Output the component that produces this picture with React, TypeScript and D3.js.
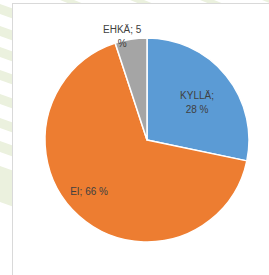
import React from 'react';
import * as d3 from 'd3';

// chart values
const categories = ['KYLLÄ', 'EI', 'EHKÄ'];
const shares = [28, 66, 5];
const sliceColors = ['#5b9bd5', '#ed7d31', '#a5a5a5'];

const width = 269;
const height = 275;
const cx = 147;
const cy = 140;
const radius = 102;

// label placement (radius as fraction of pie radius, plus nudges)
const labelLayout = [
  { r: 0.62, dx: 1, dy: 2, lines: (c: string, v: number) => [`${c};`, `${v} %`] },
  { r: 0.72, dx: -9, dy: -3, lines: (c: string, v: number) => [`${c}; ${v} %`] },
  { r: 1.04, dx: -8, dy: 1, lines: (c: string, v: number) => [`${c}; ${v}`, '%'] },
];

// faint diagonal stripes of the page background: [top y, thickness]
const stripesLeft = [[4, 10], [26, 10], [47, 10], [70, 10], [94, 10], [118, 10], [141, 11], [166, 36]];
const stripesTop = [60, 130, 200, 262];

const App = () => {
  const pie = d3.pie<number>().sort(null).startAngle(0).endAngle(2 * Math.PI);
  const arcs = pie(shares);
  const arc = d3.arc<d3.PieArcDatum<number>>().innerRadius(0).outerRadius(radius);

  return (
    <svg width={width} height={height} style={{ position: 'absolute', left: 0, top: 0, background: '#fff' }}>
      {/* background stripes */}
      <g fill="#ebf1de">
        {stripesLeft.map(([y, t], i) => (
          <polygon key={'l' + i} points={`0,${y} 14,${y + 5} 14,${y + 5 + t} 0,${y + t}`} />
        ))}
        {stripesTop.map((x, i) => (
          <polygon key={'t' + i} points={`${x},0 ${x + 14},0 ${x + 24},4 ${x + 10},4`} />
        ))}
      </g>

      {/* chart area */}
      <rect x={12.5} y={3.5} width={width} height={height} fill="#fff" stroke="#d9d9d9" strokeWidth={1} />

      <g transform={`translate(${cx},${cy})`}>
        {arcs.map((a, i) => (
          <path key={categories[i]} d={arc(a) || ''} fill={sliceColors[i]} stroke="#fff" strokeWidth={1.5} strokeLinejoin="round" />
        ))}

        {arcs.map((a, i) => {
          const mid = (a.startAngle + a.endAngle) / 2;
          const lr = radius * labelLayout[i].r;
          const x = Math.sin(mid) * lr + labelLayout[i].dx;
          const y = -Math.cos(mid) * lr + labelLayout[i].dy;
          const lines = labelLayout[i].lines(categories[i], shares[i]);
          const lineH = 14;
          const y0 = y - ((lines.length - 1) * lineH) / 2;
          return (
            <text
              key={'lbl' + i}
              textAnchor="middle"
              fontFamily="'Liberation Sans', Arial, sans-serif"
              fontSize={10}
              fill="#404040"
            >
              {lines.map((t, j) => (
                <tspan key={j} x={x} y={y0 + j * lineH} dy="0.35em">
                  {t}
                </tspan>
              ))}
            </text>
          );
        })}
      </g>
    </svg>
  );
};

export default App;
